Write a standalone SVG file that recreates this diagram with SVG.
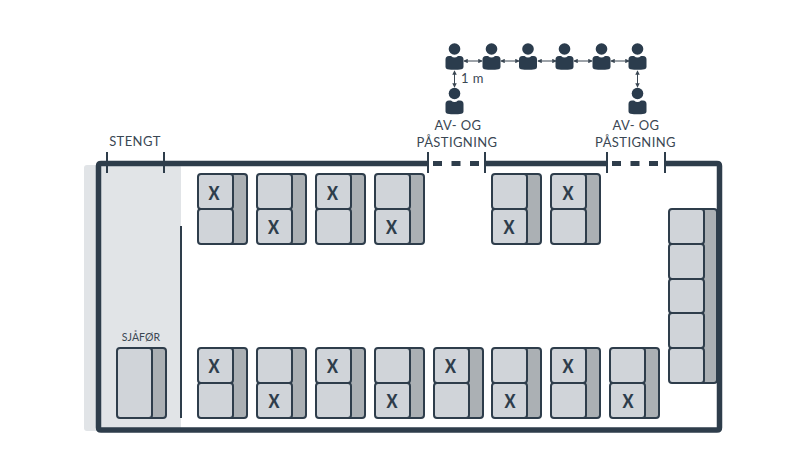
<svg xmlns="http://www.w3.org/2000/svg" width="800" height="451" viewBox="0 0 800 451">
<style>
.t{font-family:Lato,"Noto Sans",sans-serif;fill:#3a4753;text-anchor:middle;font-size:13px;letter-spacing:.4px}
.x{font-family:Lato,"Noto Sans",sans-serif;font-weight:900;font-size:19px;fill:#2e3d4b;text-anchor:middle}
.seat{fill:#d0d4d9;stroke:#2e3d4b;stroke-width:2}
.back{fill:#abb0b4;stroke:#2e3d4b;stroke-width:2}
.wall{fill:none;stroke:#2e3d4b;stroke-width:5.500;stroke-linejoin:round}
.tick{stroke:#2e3d4b;stroke-width:2;fill:none}
.arr{stroke:#3a4753;stroke-width:1;fill:none;marker-start:url(#a);marker-end:url(#a)}
.p{fill:#2b3c4d}
</style>
<defs>
<marker id="a" viewBox="0 0 6 6" refX="5" refY="3" markerWidth="4.500" markerHeight="4.500" orient="auto-start-reverse"><path d="M0 0L6 3L0 6z" fill="#3a4753"/></marker>
<g id="person"><circle cx="0" cy="0" r="5.800" class="p"/><path class="p" d="M-9 10.500Q-9 7 -5.500 7H-3.500Q0 10 3.500 7H5.500Q9 7 9 10.500V18Q9 20 7 20.200Q0 21.500 -7 20.200Q-9 20 -9 18Z"/></g>
<g id="seats"><rect class="back" x="30" y="1" width="19" height="70" rx="3"/><rect class="seat" x="0" y="1" width="35" height="35" rx="3"/><rect class="seat" x="0" y="36" width="35" height="35" rx="3"/></g>
</defs>
<rect id="closed-area" x="84" y="165" width="97" height="266" rx="3" fill="#e1e4e7"/>
<g id="connectors">
<line class="arr" x1="464" y1="61" x2="482" y2="61"/><line class="arr" x1="501" y1="61" x2="519" y2="61"/><line class="arr" x1="538" y1="61" x2="556" y2="61"/><line class="arr" x1="574" y1="61" x2="592" y2="61"/><line class="arr" x1="611" y1="61" x2="629" y2="61"/>
<line class="arr" x1="454.500" y1="71" x2="454.500" y2="87"/><line class="arr" x1="637.500" y1="71" x2="637.500" y2="87"/>
</g>
<g id="bus">
<path class="wall" d="M428 163.500H101Q98.500 163.500 98.500 166V427.500Q98.500 430 101 430H717Q719.500 430 719.500 427.500V166Q719.500 163.500 717 163.500H665M607 163.500H485"/>
<path d="M433 163.500H480M612 163.500H660" stroke="#2e3d4b" stroke-width="5" stroke-dasharray="9 9.500" fill="none"/>
<path class="tick" d="M107 152V173M164 152V173M428 152V173M485 152V173M607 152V173M665 152V173"/>
<line x1="181" y1="226" x2="181" y2="418" stroke="#2e3d4b" stroke-width="2"/>
</g>
<g id="people">
<use href="#person" x="454.500" y="49"/><use href="#person" x="491.500" y="49"/><use href="#person" x="528" y="49"/><use href="#person" x="564.500" y="49"/><use href="#person" x="601.500" y="49"/><use href="#person" x="637.500" y="49"/><use href="#person" x="454.500" y="93.500"/><use href="#person" x="637.500" y="93.500"/>
</g>
<g id="labels">
<text class="t" x="472.500" y="83">1 m</text>
<text class="t" x="135" y="146">STENGT</text>
<text class="t" x="458" y="130">AV- OG</text><text class="t" x="457" y="146.500">PÅSTIGNING</text>
<text class="t" x="636" y="130">AV- OG</text><text class="t" x="635.500" y="146.500">PÅSTIGNING</text>
<text class="t" x="141" y="340.500" style="font-size:10.500px;letter-spacing:.1px">SJÅFØR</text>
</g>
<g id="driver"><rect class="back" x="147" y="348" width="19" height="70" rx="3"/><rect class="seat" x="117" y="348" width="35" height="70" rx="3"/></g>
<g id="seats-top">
<use href="#seats" x="198" y="173"/><text class="x" x="214" y="200" textLength="11" lengthAdjust="spacingAndGlyphs">X</text>
<use href="#seats" x="257" y="173"/><text class="x" x="273.500" y="234" textLength="11" lengthAdjust="spacingAndGlyphs">X</text>
<use href="#seats" x="316" y="173"/><text class="x" x="332.500" y="200" textLength="11" lengthAdjust="spacingAndGlyphs">X</text>
<use href="#seats" x="375" y="173"/><text class="x" x="391.500" y="234" textLength="11" lengthAdjust="spacingAndGlyphs">X</text>
<use href="#seats" x="492" y="173"/><text class="x" x="509" y="234" textLength="11" lengthAdjust="spacingAndGlyphs">X</text>
<use href="#seats" x="551" y="173"/><text class="x" x="568" y="200" textLength="11" lengthAdjust="spacingAndGlyphs">X</text>
</g>
<g id="seats-bottom">
<use href="#seats" x="198" y="347"/><text class="x" x="214" y="373" textLength="11" lengthAdjust="spacingAndGlyphs">X</text>
<use href="#seats" x="257" y="347"/><text class="x" x="274" y="408" textLength="11" lengthAdjust="spacingAndGlyphs">X</text>
<use href="#seats" x="316" y="347"/><text class="x" x="332.500" y="373" textLength="11" lengthAdjust="spacingAndGlyphs">X</text>
<use href="#seats" x="375" y="347"/><text class="x" x="392" y="408" textLength="11" lengthAdjust="spacingAndGlyphs">X</text>
<use href="#seats" x="434" y="347"/><text class="x" x="450.500" y="373" textLength="11" lengthAdjust="spacingAndGlyphs">X</text>
<use href="#seats" x="492" y="347"/><text class="x" x="510" y="408" textLength="11" lengthAdjust="spacingAndGlyphs">X</text>
<use href="#seats" x="551" y="347"/><text class="x" x="568" y="373" textLength="11" lengthAdjust="spacingAndGlyphs">X</text>
<use href="#seats" x="610" y="347"/><text class="x" x="628" y="408" textLength="11" lengthAdjust="spacingAndGlyphs">X</text>
</g>
<g id="seats-rear">
<rect class="back" x="699" y="209" width="18" height="174" rx="3"/>
<rect class="seat" x="669" y="209" width="35" height="35" rx="3"/><rect class="seat" x="669" y="244" width="35" height="35" rx="3"/><rect class="seat" x="669" y="279" width="35" height="34" rx="3"/><rect class="seat" x="669" y="313" width="35" height="35" rx="3"/><rect class="seat" x="669" y="348" width="35" height="35" rx="3"/>
</g>
</svg>
